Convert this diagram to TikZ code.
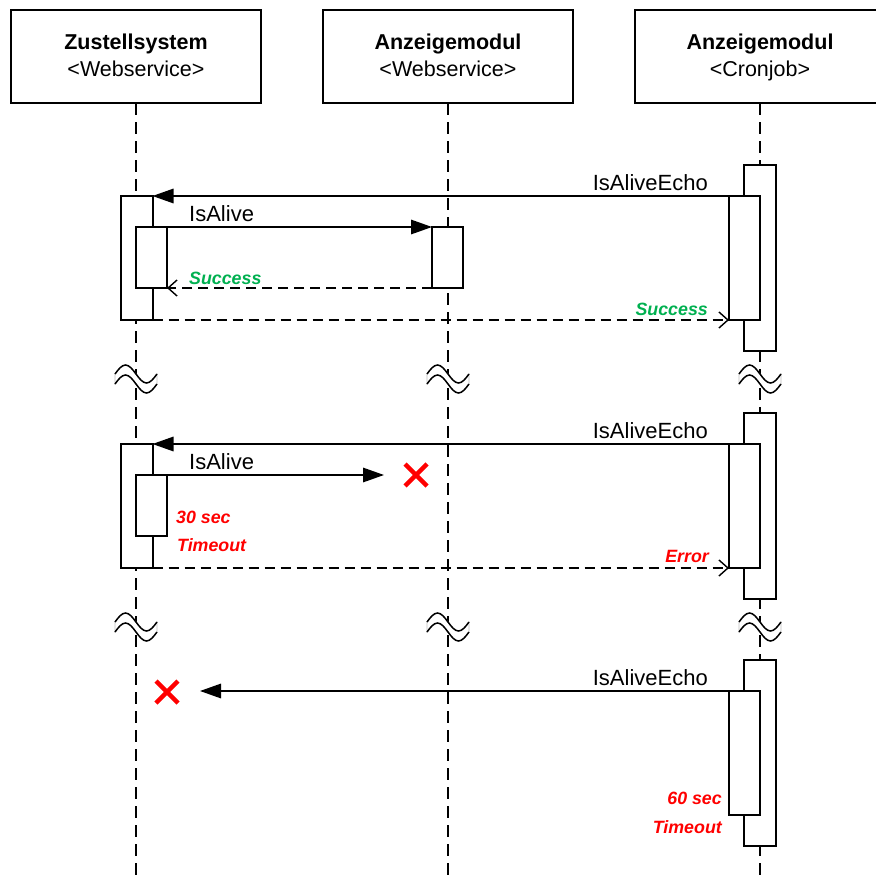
\documentclass[tikz,border=0pt]{standalone}
\usepackage{fontspec}
\setmainfont{Liberation Sans}
\usetikzlibrary{arrows.meta}
\definecolor{okgreen}{HTML}{00B050}
\definecolor{errred}{HTML}{FF0000}
\begin{document}
\begin{tikzpicture}[x=1pt,y=-1pt,
  hdr/.style={draw, line width=2pt, minimum width=250.5pt, minimum height=93pt, inner sep=0pt, outer sep=0pt},
  bar/.style={draw, fill=white, line width=2pt, minimum width=31pt, inner sep=0pt, outer sep=0pt},
  life/.style={line width=1.4pt, dash pattern=on 12pt off 7pt},
  msg/.style={line width=1.5pt, -{Triangle[length=21pt,width=14.5pt]}},
  ret/.style={line width=1.4pt, dash pattern=on 10pt off 6pt, -{Straight Barb[length=9pt,width=16pt,line width=1.4pt]}},
  ttl/.style={font=\fontsize{21.5}{25}\selectfont\bfseries, anchor=base, inner sep=0pt},
  sub/.style={font=\fontsize{21.5}{25}\selectfont, anchor=base, inner sep=0pt},
  lbl/.style={font=\fontsize{22}{25}\selectfont, inner sep=0pt},
  note/.style={font=\fontsize{17.8}{20}\selectfont\bfseries\itshape, inner sep=0pt},
  crossmark/.style={errred, line width=4.5pt},
  wavefill/.style={fill=white, draw=black!25, line width=0.8pt},
  waveline/.style={line width=1.5pt}
]
\useasboundingbox (0,0) rectangle (876,875);
\clip (0,0) rectangle (876,875);

% header boxes
\node[hdr] (h1) at (136,56.5) {};
\node[hdr] (h2) at (448,56.5) {};
\node[hdr] (h3) at (760,56.5) {};
\node[ttl] (t1) at (136,50) {Zustellsystem};
\node[sub] (s1) at (136,77) {<Webservice>};
\node[ttl] (t2) at (448,50) {Anzeigemodul};
\node[sub] (s2) at (448,77) {<Webservice>};
\node[ttl] (t3) at (760,50) {Anzeigemodul};
\node[sub] (s3) at (760,77) {<Cronjob>};

% lifelines
\coordinate (e1) at (136,876);
\coordinate (e2) at (448,876);
\coordinate (e3) at (760,876);
\draw[life] (h1.south) -- (e1);
\draw[life] (h2.south) -- (e2);
\draw[life] (h3.south) -- (e3);

% break symbols
\foreach \cx in {136,448,760}{
  \foreach \yc in {374,622}{
    \path[wavefill] (\cx-21,\yc) sin (\cx-10.5,\yc-9) cos (\cx,\yc) sin (\cx+10.5,\yc+9) cos (\cx+21,\yc)
      -- (\cx+21,\yc+10) sin (\cx+10.5,\yc+19) cos (\cx,\yc+10) sin (\cx-10.5,\yc+1) cos (\cx-21,\yc+10) -- cycle;
    \draw[waveline] (\cx-21,\yc) sin (\cx-10.5,\yc-9) cos (\cx,\yc) sin (\cx+10.5,\yc+9) cos (\cx+21,\yc);
    \draw[waveline] (\cx-21,\yc+10) sin (\cx-10.5,\yc+1) cos (\cx,\yc+10) sin (\cx+10.5,\yc+19) cos (\cx+21,\yc+10);
  }
}

% ---------- section 1 ----------
\node[bar, minimum width=32pt, minimum height=186pt] (c1o) at (760,258) {};
\node[bar, minimum height=124pt] (c1i) at (744.5,258) {};
\node[bar, minimum width=32pt, minimum height=124pt] (z1o) at (136.5,258) {};
\node[bar, minimum height=61pt] (z1i) at (151.5,257.5) {};
\node[bar, minimum height=61pt] (a1) at (447.5,257.5) {};

\draw[msg] (c1i.north west) -- (z1o.north east);
\draw[msg] (z1i.north east) -- (a1.north west);
\draw[ret] (a1.south west) -- (z1i.south east);
\draw[ret] (z1o.south east) -- (c1i.south west);

\node[lbl, anchor=base east] (l1) at (708,190) {IsAliveEcho};
\node[lbl, anchor=base west] (l2) at (189,221) {IsAlive};
\node[note, text=okgreen, anchor=base west] (l3) at (189,284) {Success};
\node[note, text=okgreen, anchor=base east] (l4) at (708,315) {Success};

% ---------- section 2 ----------
\node[bar, minimum width=32pt, minimum height=186pt] (c2o) at (760,506) {};
\node[bar, minimum height=124pt] (c2i) at (744.5,506) {};
\node[bar, minimum width=32pt, minimum height=124pt] (z2o) at (136.5,506) {};
\node[bar, minimum height=61pt] (z2i) at (151.5,505.5) {};
\coordinate (x2) at (384,475);

\draw[msg] (c2i.north west) -- (z2o.north east);
\draw[msg] (z2i.north east) -- (x2);
\draw[ret] (z2o.south east) -- (c2i.south west);
\draw[crossmark] (405,464) -- (427,486) (405,486) -- (427,464);

\node[lbl, anchor=base east] (l5) at (708,438) {IsAliveEcho};
\node[lbl, anchor=base west] (l6) at (189,469) {IsAlive};
\node[note, text=errred, anchor=base west] (l7) at (176,523) {30 sec};
\node[note, text=errred, anchor=base west] (l8) at (177,551) {Timeout};
\node[note, text=errred, anchor=base east] (l9) at (709,562) {Error};

% ---------- section 3 ----------
\node[bar, minimum width=32pt, minimum height=186pt] (c3o) at (760,753) {};
\node[bar, minimum height=124pt] (c3i) at (744.5,753) {};
\coordinate (x3) at (200,691);

\draw[msg] (c3i.north west) -- (x3);
\draw[crossmark] (156,681) -- (178,703) (156,703) -- (178,681);

\node[lbl, anchor=base east] (l10) at (708,685) {IsAliveEcho};
\node[note, text=errred, anchor=base east] (l11) at (722,804) {60 sec};
\node[note, text=errred, anchor=base east] (l12) at (722,833) {Timeout};
\end{tikzpicture}
\end{document}
